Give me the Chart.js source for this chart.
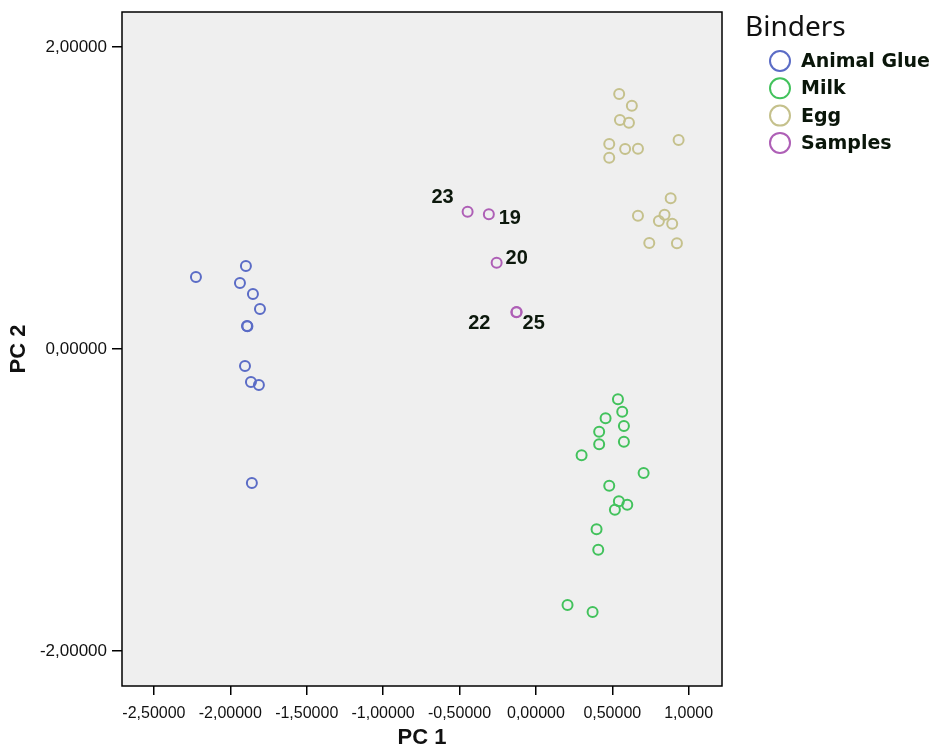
<!DOCTYPE html>
<html>
<head>
<meta charset="utf-8">
<title>PCA Binders</title>
<script src="https://cdn.jsdelivr.net/npm/chart.js@4.4.1/dist/chart.umd.min.js"></script>
<style>
  body { margin: 0; background: #ffffff; }
  canvas { display: block; }
</style>
</head>
<body>
<canvas id="pcaChart" width="931" height="751"></canvas>
<script>
const animalGlue = [
  [-2.225, 0.477], [-1.898, 0.550], [-1.937, 0.437], [-1.852, 0.364],
  [-1.806, 0.265], [-1.891, 0.152], [-1.888, 0.150], [-1.904, -0.113],
  [-1.865, -0.219], [-1.813, -0.238], [-1.859, -0.887]
];
const milk = [
  [0.537, -0.333], [0.565, -0.415], [0.456, -0.459], [0.576, -0.510],
  [0.414, -0.548], [0.576, -0.614], [0.414, -0.631], [0.299, -0.704],
  [0.705, -0.821], [0.480, -0.905], [0.543, -1.009], [0.598, -1.031],
  [0.517, -1.064], [0.397, -1.194], [0.408, -1.329], [0.207, -1.695],
  [0.371, -1.742]
];
const egg = [
  [0.545, 1.689], [0.628, 1.611], [0.550, 1.517], [0.609, 1.499],
  [0.480, 1.358], [0.934, 1.384], [0.584, 1.325], [0.668, 1.326],
  [0.480, 1.267], [0.882, 0.998], [0.668, 0.883], [0.842, 0.889],
  [0.805, 0.848], [0.892, 0.830], [0.742, 0.702], [0.923, 0.700]
];
const samples = [
  [-0.447, 0.909], [-0.308, 0.892], [-0.257, 0.572], [-0.126, 0.245], [-0.128, 0.243]
];
const sampleLabels = ['23', '19', '20', '25', '22'];

const seriesNames = ['Animal Glue', 'Milk', 'Egg', 'Samples'];
const xTickValues = [-2.5, -2, -1.5, -1, -0.5, 0, 0.5, 1];
const xTickLabels = ['-2,50000', '-2,00000', '-1,50000', '-1,00000', '-0,50000', '0,00000', '0,50000', '1,0000'];
const yTickValues = [-2, 0, 2];
const yTickLabels = ['-2,00000', '0,00000', '2,00000'];

function toPoints(arr) {
  return arr.map(p => ({ x: p[0], y: p[1] }));
}

// where each sample number sits next to its circle
const labelOffsets = {
  '23': [-25, -14],
  '19': [21, 4],
  '20': [20, -4],
  '25': [17, 11],
  '22': [-37, 11]
};

const frameAndLabels = {
  id: 'frameAndLabels',
  beforeDatasetsDraw(chart) {
    const a = chart.chartArea;
    const ctx = chart.ctx;
    ctx.save();
    ctx.fillStyle = '#efefef';
    ctx.fillRect(a.left, a.top, a.right - a.left, a.bottom - a.top);
    ctx.restore();
  },
  afterDraw(chart) {
    const a = chart.chartArea;
    const ctx = chart.ctx;
    ctx.save();
    ctx.strokeStyle = '#000000';
    ctx.lineWidth = 1.5;
    ctx.strokeRect(a.left, a.top, a.right - a.left, a.bottom - a.top);

    // sample numbers
    const meta = chart.getDatasetMeta(3);
    ctx.font = 'bold 20px "Liberation Sans", Arial, sans-serif';
    ctx.fillStyle = '#0c180c';
    ctx.textAlign = 'center';
    ctx.textBaseline = 'middle';
    meta.data.forEach((pt, i) => {
      const lab = sampleLabels[i];
      const off = labelOffsets[lab] || [15, 0];
      ctx.fillText(lab, pt.x + off[0], pt.y + off[1]);
    });

    // legend
    ctx.font = '28px "Noto Sans", "Open Sans", sans-serif';
    ctx.fillStyle = '#111111';
    ctx.textAlign = 'left';
    ctx.textBaseline = 'alphabetic';
    ctx.fillText('Binders', 745, 36);
    ctx.font = 'bold 19px "DejaVu Sans", sans-serif';
    ctx.textBaseline = 'middle';
    chart.data.datasets.forEach((ds, i) => {
      const cy = 61 + i * 27.3;
      ctx.beginPath();
      ctx.arc(780, cy, 10, 0, Math.PI * 2);
      ctx.strokeStyle = ds.borderColor;
      ctx.lineWidth = 2;
      ctx.stroke();
      ctx.fillStyle = '#0a160a';
      ctx.fillText(ds.label, 801, cy + 1);
    });
    ctx.restore();
  }
};

const colors = ['#5b6cc6', '#42c25c', '#c5c18c', '#ae5fb6'];
const groups = [animalGlue, milk, egg, samples];

const ctx = document.getElementById('pcaChart').getContext('2d');
const pcaChart = new Chart(ctx, {
  type: 'scatter',
  data: {
    datasets: groups.map((g, i) => ({
      label: seriesNames[i],
      data: toPoints(g),
      borderColor: colors[i],
      backgroundColor: 'rgba(0,0,0,0)',
      borderWidth: 2,
      pointRadius: 5,
      pointHoverRadius: 5
    }))
  },
  options: {
    responsive: false,
    animation: false,
    devicePixelRatio: 1,
    layout: { autoPadding: false, padding: { left: 0, top: 12, right: 209, bottom: 0 } },
    plugins: {
      legend: { display: false },
      tooltip: { enabled: false }
    },
    scales: {
      x: {
        type: 'linear',
        min: -2.709,
        max: 1.218,
        afterBuildTicks: scale => { scale.ticks = xTickValues.map(v => ({ value: v })); },
        afterFit: scale => { scale.height = 65; },
        grid: { drawOnChartArea: false, color: '#000000', tickLength: 9, lineWidth: 1.5 },
        border: { display: false },
        ticks: {
          autoSkip: false,
          maxRotation: 0,
          padding: 9,
          color: '#111111',
          font: { family: '"Liberation Sans", Arial, sans-serif', size: 16 },
          callback: value => xTickLabels[xTickValues.indexOf(value)]
        },
        title: {
          display: true,
          text: 'PC 1',
          color: '#111111',
          padding: { top: 0, bottom: 0 },
          font: { family: '"Liberation Sans", Arial, sans-serif', size: 22, weight: 'bold' }
        }
      },
      y: {
        type: 'linear',
        min: -2.232,
        max: 2.232,
        afterBuildTicks: scale => { scale.ticks = yTickValues.map(v => ({ value: v })); },
        afterFit: scale => {
          scale.width = 122;
          scale.paddingTop = 0;
          scale.paddingBottom = 0;
        },
        grid: { drawOnChartArea: false, color: '#000000', tickLength: 10, lineWidth: 1.5 },
        border: { display: false },
        ticks: {
          padding: 5,
          color: '#111111',
          font: { family: '"Liberation Sans", Arial, sans-serif', size: 17 },
          callback: value => yTickLabels[yTickValues.indexOf(value)]
        },
        title: {
          display: true,
          text: 'PC 2',
          color: '#111111',
          padding: { top: 6, bottom: 0 },
          font: { family: '"Liberation Sans", Arial, sans-serif', size: 22, weight: 'bold' }
        }
      }
    }
  },
  plugins: [frameAndLabels]
});
</script>
</body>
</html>
